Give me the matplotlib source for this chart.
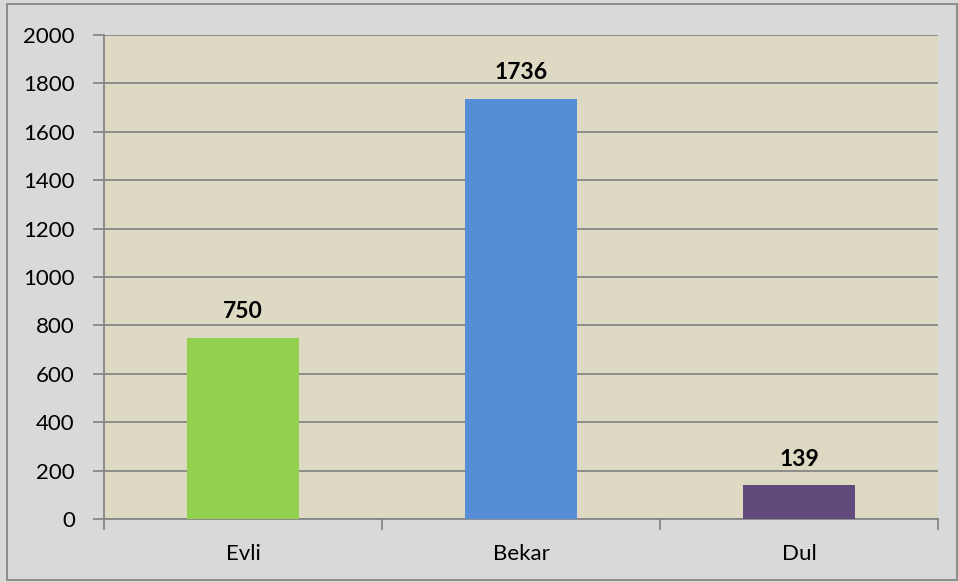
import matplotlib.pyplot as plt
from matplotlib.patches import Rectangle

plt.rcParams['font.family'] = ['Lato', 'DejaVu Sans']

kategoriler = ["Evli", "Bekar", "Dul"]
degerler = [750, 1736, 139]
renkler = ["#92d050", "#558ed5", "#604a7b"]
y_ticks = [0, 200, 400, 600, 800, 1000, 1200, 1400, 1600, 1800, 2000]

fig = plt.figure(figsize=(9.58, 5.82), dpi=100)
fig.patch.set_facecolor("#d9d9d9")
ax = fig.add_axes([104/958, 1-519/582, (938-104)/958, (519-35)/582])
ax.set_facecolor("#ddd9c3")

x = range(len(kategoriler))
ax.bar(x, degerler, width=0.4, color=renkler, zorder=3)

for i, v in enumerate(degerler):
    ax.text(i, v + 65, str(v), ha="center", va="bottom", fontsize=16.5, fontweight="bold", zorder=4)

ax.set_xlim(-0.5, 2.5)
ax.set_ylim(0, 2000)
ax.set_yticks(y_ticks)
ax.set_yticklabels([str(t) for t in y_ticks], fontsize=16)
ax.yaxis.grid(True, color="#868686", lw=1.3, zorder=1)

# kategori sinirlarinda x tikleri
ax.set_xticks([-0.5, 0.5, 1.5, 2.5])
ax.set_xticklabels([])
ax.set_xticks(list(x), minor=True)
ax.set_xticklabels(kategoriler, minor=True, fontsize=16)
ax.tick_params(axis="x", which="major", length=8, color="#868686", width=1.3)
ax.tick_params(axis="x", which="minor", length=0, pad=18)
ax.tick_params(axis="y", length=8, color="#868686", width=1.3, pad=13)

for s in ax.spines.values():
    s.set_color("#868686")
    s.set_linewidth(1.3)
ax.spines["top"].set_visible(False)
ax.spines["right"].set_visible(False)

# dis cerceve
fig.patches.append(Rectangle((7/958, 2/582), 950/958, 576/582, transform=fig.transFigure,
                             fill=False, edgecolor="#868686", lw=1.3))

plt.savefig("out.png")
